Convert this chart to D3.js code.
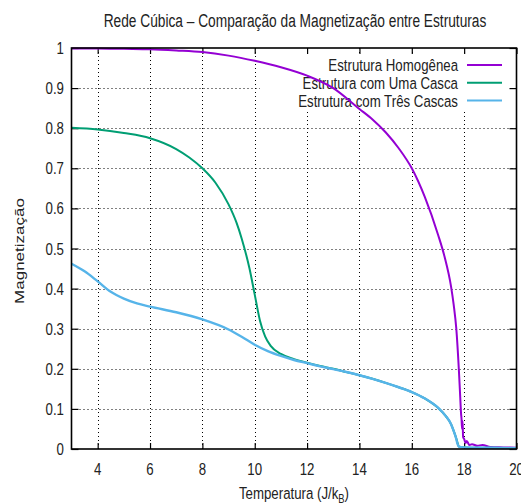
<!DOCTYPE html>
<html>
<head>
<meta charset="utf-8">
<script src="https://cdn.jsdelivr.net/npm/d3@7"></script>
<style>
  html, body { margin: 0; padding: 0; background: #fff; overflow: hidden; }
  svg { display: block; }
  text { font-family: "Liberation Sans", Arial, Helvetica, sans-serif; fill: #222; }
</style>
</head>
<body>
<svg id="chart" width="521" height="504"></svg>
<script>
// Temperature values (J/k_B) and magnetization for each structure
const tempHomogenea = [3, 4, 5, 6, 7, 8, 9, 10, 11, 12, 13, 14, 14.5, 15, 15.5, 16, 16.5, 17, 17.25, 17.5, 17.6, 17.7, 17.8, 17.85, 17.88, 17.9, 17.92, 17.94, 17.96, 18.0, 18.05, 18.1, 18.2, 18.3, 18.5, 18.7, 19, 19.5, 20];
const magHomogenea  = [0.999, 0.999, 0.998, 0.997, 0.994, 0.99, 0.981, 0.968, 0.952, 0.931, 0.9, 0.848, 0.822, 0.79, 0.75, 0.70, 0.628, 0.535, 0.48, 0.405, 0.36, 0.30, 0.195, 0.13, 0.09, 0.075, 0.05, 0.07, 0.03, 0.025, 0.015, 0.02, 0.01, 0.012, 0.008, 0.01, 0.005, 0.004, 0.003];

const tempUmaCasca = [3, 4, 5, 6, 7, 7.5, 8, 8.5, 9, 9.3, 9.5, 9.8, 10, 10.2, 10.4, 10.6, 11, 11.5, 12, 12.5, 13, 13.5, 14, 14.5, 15, 15.5, 16, 16.5, 17, 17.3, 17.5, 17.6, 17.7, 17.75, 17.8, 18, 19, 20];
const magUmaCasca  = [0.801, 0.797, 0.788, 0.775, 0.748, 0.727, 0.700, 0.664, 0.61, 0.565, 0.525, 0.45, 0.385, 0.32, 0.28, 0.258, 0.237, 0.224, 0.215, 0.207, 0.2, 0.192, 0.184, 0.175, 0.165, 0.154, 0.142, 0.126, 0.103, 0.082, 0.062, 0.045, 0.026, 0.015, 0.006, 0.004, 0.003, 0.002];

const tempTresCascas = [3, 3.5, 4, 4.5, 5, 5.5, 6, 7, 8, 9, 9.5, 10, 10.5, 11, 11.5, 12, 12.5, 13, 13.5, 14, 14.5, 15, 15.5, 16, 16.5, 17, 17.3, 17.5, 17.6, 17.7, 17.75, 17.8, 18, 19, 20];
const magTresCascas  = [0.462, 0.443, 0.418, 0.392, 0.375, 0.363, 0.355, 0.341, 0.323, 0.298, 0.28, 0.26, 0.244, 0.232, 0.222, 0.214, 0.206, 0.199, 0.192, 0.184, 0.175, 0.165, 0.154, 0.142, 0.126, 0.103, 0.082, 0.062, 0.045, 0.025, 0.012, 0.006, 0.004, 0.003, 0.002];

const seriesNames  = ["Estrutura Homogênea", "Estrutura com Uma Casca", "Estrutura com Três Cascas"];
const seriesColors = ["#9400d3", "#009e73", "#56b4e9"];

const xTicks = [4, 6, 8, 10, 12, 14, 16, 18, 20];
const yTicks = [0, 0.1, 0.2, 0.3, 0.4, 0.5, 0.6, 0.7, 0.8, 0.9, 1];
const yTickLabels = ["0", "0.1", "0.2", "0.3", "0.4", "0.5", "0.6", "0.7", "0.8", "0.9", "1"];

const titleText = "Rede Cúbica – Comparação da Magnetização entre Estruturas";
const yLabelText = "Magnetização";

// Layout of the plotting frame
const svg = d3.select("#chart");
const plotLeft = 71.5, plotRight = 516.5, plotTop = 48, plotBottom = 449;
const SX = 0.78;          // horizontal squeeze of the lettering
const FS = 17;            // font size

const x = d3.scaleLinear().domain([3, 20]).range([plotLeft, plotRight]);
const y = d3.scaleLinear().domain([0, 1]).range([plotBottom, plotTop]);

function label(g, px, py, str, anchor, rotate, size) {
  return g.append("text")
    .attr("transform", `translate(${px},${py}) scale(${SX},1)` + (rotate ? " rotate(-90)" : ""))
    .attr("text-anchor", anchor)
    .style("font-size", (size || FS) + "px")
    .text(str);
}

// Grid (dotted), only inside the frame
const grid = svg.append("g").attr("stroke", "#000").attr("stroke-width", 1)
  .attr("stroke-dasharray", "1,3");
grid.selectAll("line.gx").data(xTicks.filter(t => t > 3 && t < 20)).join("line")
  .attr("x1", d => Math.round(x(d)) + 0.5).attr("x2", d => Math.round(x(d)) + 0.5)
  .attr("y1", plotTop).attr("y2", plotBottom);
grid.selectAll("line.gy").data(yTicks.filter(t => t > 0 && t < 1)).join("line")
  .attr("x1", plotLeft).attr("x2", plotRight)
  .attr("y1", d => Math.round(y(d)) + 0.5).attr("y2", d => Math.round(y(d)) + 0.5);

// Key background hides the grid behind the legend
svg.append("rect").attr("x", 260).attr("y", 56).attr("width", 250).attr("height", 55)
  .attr("fill", "#fff");

// Tick marks on all four sides (pointing inward)
const axes = svg.append("g");
axes.append("g").attr("transform", `translate(0,${plotBottom})`)
  .call(d3.axisBottom(x).tickValues(xTicks).tickSize(-6).tickFormat(""));
axes.append("g").attr("transform", `translate(0,${plotTop})`)
  .call(d3.axisTop(x).tickValues(xTicks).tickSize(-6).tickFormat(""));
axes.append("g").attr("transform", `translate(${plotLeft},0)`)
  .call(d3.axisLeft(y).tickValues(yTicks).tickSize(-7).tickFormat(""));
axes.append("g").attr("transform", `translate(${plotRight},0)`)
  .call(d3.axisRight(y).tickValues(yTicks).tickSize(-7).tickFormat(""));
axes.selectAll(".domain").remove();
axes.selectAll(".tick line").attr("stroke", "#000").attr("stroke-width", 1.2);

// Tick labels
const lab = svg.append("g");
xTicks.forEach(t => label(lab, x(t), 475, String(t), "middle"));
yTicks.forEach((t, i) => label(lab, 64, y(t) + 6, yTickLabels[i], "end"));

// Titles
label(svg, 295, 26.5, titleText, "middle", false, 17.6);
label(svg, 294, 498.5, "", "middle")
  .call(t => {
    t.append("tspan").text("Temperatura (J/k");
    t.append("tspan").attr("dy", 4).style("font-size", "12px").text("B");
    t.append("tspan").attr("dy", -4).text(")");
  });
label(svg, 24, 251, yLabelText, "middle", true);

// Legend
const legend = svg.append("g");
seriesNames.forEach((name, i) => {
  const cy = 65 + i * 17.8;
  label(legend, 458, cy + 6, name, "end");
  legend.append("line").attr("x1", 467).attr("x2", 502).attr("y1", cy).attr("y2", cy)
    .attr("stroke", seriesColors[i]).attr("stroke-width", 2);
});

// Curves, drawn in legend order so the three-shell curve ends on top
const line = d3.line().x(d => x(d[0])).y(d => y(d[1])).curve(d3.curveMonotoneX);
const series = [
  d3.zip(tempHomogenea, magHomogenea),
  d3.zip(tempUmaCasca, magUmaCasca),
  d3.zip(tempTresCascas, magTresCascas)
];
const widths = [2, 2, 2.4];
const curves = svg.append("g");
series.forEach((s, i) => {
  curves.append("path").datum(s).attr("d", line)
    .attr("fill", "none").attr("stroke", seriesColors[i]).attr("stroke-width", widths[i])
    .attr("stroke-linejoin", "round");
});

// Frame
svg.append("rect").attr("x", plotLeft).attr("y", plotTop)
  .attr("width", plotRight - plotLeft).attr("height", plotBottom - plotTop)
  .attr("fill", "none").attr("stroke", "#000").attr("stroke-width", 1.6);
</script>
</body>
</html>
